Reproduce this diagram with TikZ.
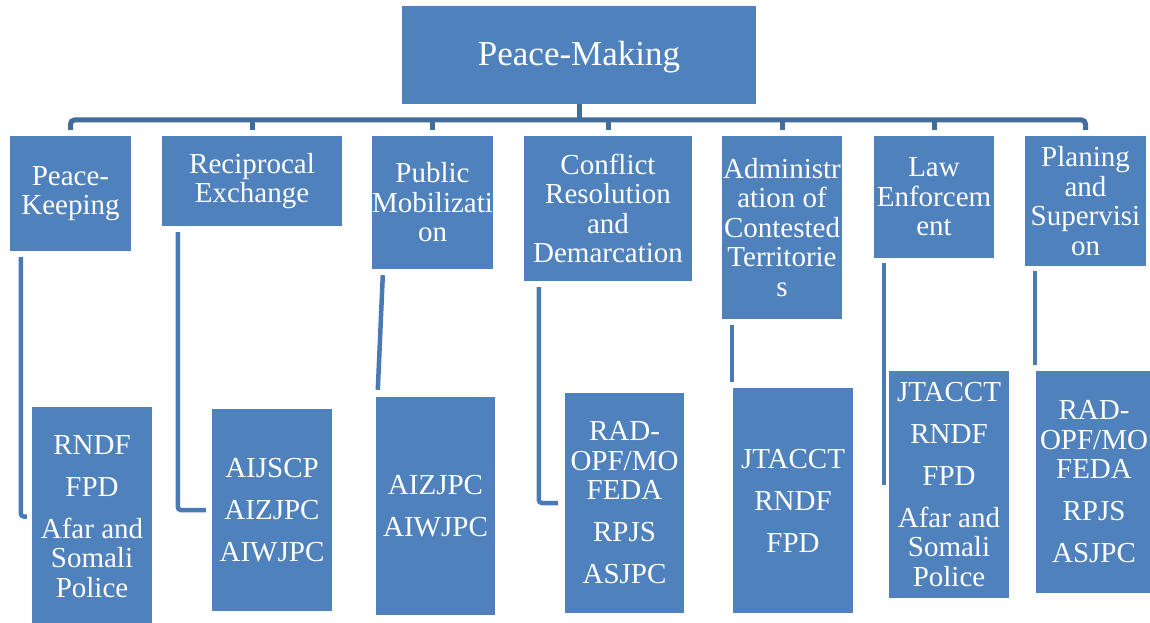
\documentclass[tikz,border=0pt]{standalone}
\usepackage{fontspec}
\setmainfont{Liberation Serif}
\usetikzlibrary{calc}
\definecolor{boxblue}{HTML}{4F81BD}
\definecolor{busblue}{HTML}{3F6D9E}
\definecolor{linkblue}{HTML}{4A7AB5}
\newcommand{\orgnode}[6]{\node[orgbox, minimum width={(#4-#2)*1pt}, minimum height={(#5-#3)*1pt}] (#1) at ({(#2+#4)/2},{(#3+#5)/2}) {#6};}
\begin{document}
\begin{tikzpicture}[x=1pt,y=-1pt,
  orgbox/.style={fill=boxblue, text=white, align=center, inner sep=0pt,
    font=\fontsize{29}{29.5}\selectfont},
  topbox/.style={orgbox, font=\fontsize{35}{40}\selectfont, text height=30pt, text depth=8pt},
  busline/.style={draw=busblue, line width=5pt},
  linkline/.style={draw=linkblue, line width=4.5pt}]
\useasboundingbox (0,0) rectangle (1150,623);
% top
\node[topbox, minimum width=354pt, minimum height=98pt] (top) at (579,55) {Peace-Making};
% level 2
\orgnode{pk}{10}{136}{131}{251}{Peace-\\Keeping}
\orgnode{re}{162}{136}{342}{226}{Reciprocal\\Exchange}
\orgnode{pm}{372}{136}{493}{269}{Public\\Mobilizati\\on}
\orgnode{cr}{524}{136}{692}{281}{Conflict\\Resolution\\and\\Demarcation}
\orgnode{ad}{722}{136}{842}{319}{Administr\\ation of\\Contested\\Territorie\\s}
\orgnode{le}{874}{136}{994}{258}{Law\\Enforcem\\ent}
\orgnode{ps}{1025}{136}{1146}{266}{Planing\\and\\Supervisi\\on}
% level 3
\orgnode{pkt}{32}{407}{152}{626}{RNDF\\[12.5pt]FPD\\[12.5pt]Afar and\\Somali\\Police}
\orgnode{ret}{212}{409}{332}{611}{AIJSCP\\[12.5pt]AIZJPC\\[12.5pt]AIWJPC}
\orgnode{pmt}{376}{397}{495}{615}{AIZJPC\\[12.5pt]AIWJPC}
\orgnode{crt}{565}{393}{684}{613}{RAD-\\OPF/MO\\FEDA\\[12.5pt]RPJS\\[12.5pt]ASJPC}
\orgnode{adt}{733}{388}{853}{613}{JTACCT\\[12.5pt]RNDF\\[12.5pt]FPD}
\orgnode{let}{889}{371}{1009}{598}{JTACCT\\[12.5pt]RNDF\\[12.5pt]FPD\\[12.5pt]Afar and\\Somali\\Police}
\orgnode{pst}{1036}{371}{1152}{593}{RAD-\\OPF/MO\\FEDA\\[12.5pt]RPJS\\[12.5pt]ASJPC}
% bus
\coordinate (bus) at (0,120);
\draw[busline, rounded corners=4pt, shorten <=6pt, shorten >=6pt]
  (pk.north) -- (pk.north |- bus) -- (ps.north |- bus) -- (ps.north);
\foreach \n in {re,pm,cr,ad,le}
  \draw[busline, shorten <=6pt] (\n.north) -- (\n.north |- bus);
\draw[busline] (top.south) -- (top.south |- bus);
% link end points
\coordinate (s1) at ($(pk.south west)+(11,6)$);
\coordinate (s2) at ($(re.south west)+(16,6)$);
\coordinate (s3) at ($(pm.south west)+(11,6)$);
\coordinate (e3) at ($(pmt.north west)+(2,-7)$);
\coordinate (s4) at ($(cr.south west)+(15,6)$);
\coordinate (s5) at ($(ad.south west)+(10,6)$);
\coordinate (e5) at ($(adt.north west)+(0,-6)$);
\coordinate (s6) at ($(le.south west)+(10,5)$);
\coordinate (s7) at ($(ps.south west)+(10,5)$);
\coordinate (e7) at ($(pst.north west)+(0,-6)$);
% links to level 3
\draw[linkline, rounded corners=3pt, shorten >=5pt] (s1) |- (pkt.west);
\draw[linkline, rounded corners=3pt, shorten >=6pt] (s2) |- (ret.west);
\draw[linkline] (s3) -- (e3);
\draw[linkline, rounded corners=3pt, shorten >=7pt] (s4) |- (crt.west);
\draw[linkline] (s5) -- (s5 |- e5);
\draw[linkline] (s6) -- (s6 |- let.west);
\draw[linkline] (s7) -- (s7 |- e7);
\end{tikzpicture}
\end{document}
